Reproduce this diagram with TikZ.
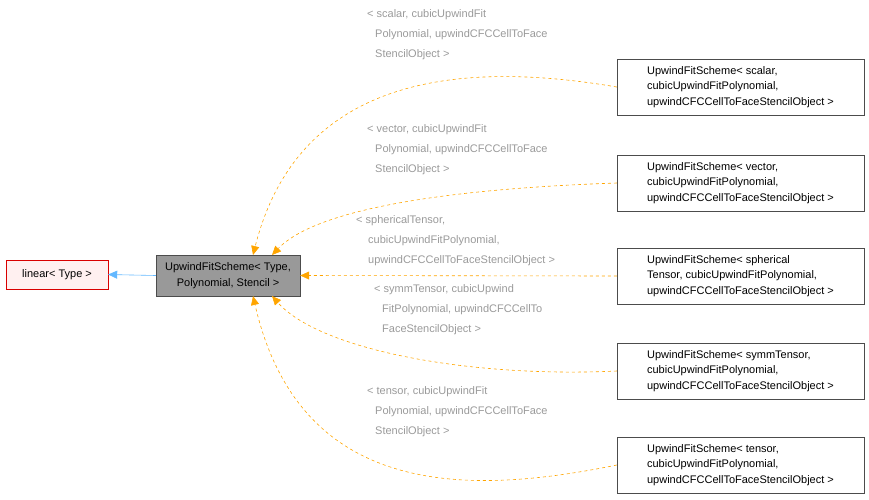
\documentclass[tikz,border=0pt]{standalone}
\usepackage{fontspec}
\setmainfont{Liberation Sans}
\usetikzlibrary{arrows.meta,positioning}
\definecolor{edgeorange}{HTML}{FFA500}
\definecolor{edgeblue}{HTML}{63B8FF}
\definecolor{labelgray}{HTML}{9A9A9A}
\definecolor{nodegray}{HTML}{999999}
\definecolor{nodered}{HTML}{FFF0F0}

\begin{document}
\begin{tikzpicture}[x=1pt,y=-1pt,font=\fontsize{11}{15.5}\selectfont]
  \tikzstyle{cls}=[rectangle,draw=black!70,fill=white,align=left,inner sep=0pt,
                   minimum width=247pt,minimum height=56pt]
  \tikzstyle{lbl}=[anchor=north west,text=labelgray,align=left,inner sep=0pt,
                   font=\fontsize{11}{20}\selectfont]
  \tikzstyle{inh}=[draw=edgeorange,dashed,semithick,-{Triangle[width=8pt,length=9pt]}]
  \useasboundingbox (0,0) rectangle (869,499);

  \node[rectangle,draw=red!85!black,fill=nodered,minimum width=102pt,minimum height=29pt,inner sep=0pt] (linear) at (57,274.5) {linear< Type >};
  \node[rectangle,draw=black!70,fill=nodegray,minimum width=144pt,minimum height=41pt,inner sep=0pt,align=center] (base) at (228,275.5) {UpwindFitScheme< Type,\\Polynomial, Stencil >};

  \node[cls] (scalar) at (740.5,87) {UpwindFitScheme< scalar,\\ cubicUpwindFitPolynomial,\\ upwindCFCCellToFaceStencilObject >};
  \node[cls] (vector) at (740.5,183) {UpwindFitScheme< vector,\\ cubicUpwindFitPolynomial,\\ upwindCFCCellToFaceStencilObject >};
  \node[cls] (spherical) at (740.5,276) {UpwindFitScheme< spherical\\Tensor, cubicUpwindFitPolynomial,\\ upwindCFCCellToFaceStencilObject >};
  \node[cls] (symm) at (740.5,371) {UpwindFitScheme< symmTensor,\\ cubicUpwindFitPolynomial,\\ upwindCFCCellToFaceStencilObject >};
  \node[cls] (tensor) at (740.5,465) {UpwindFitScheme< tensor,\\ cubicUpwindFitPolynomial,\\ upwindCFCCellToFaceStencilObject >};

  \node[lbl] (lscalar) at (367,9) {< scalar, cubicUpwindFit\\\hspace*{8pt}Polynomial, upwindCFCCellToFace\\\hspace*{8pt}StencilObject >};
  \node[lbl] (lvector) at (367,124) {< vector, cubicUpwindFit\\\hspace*{8pt}Polynomial, upwindCFCCellToFace\\\hspace*{8pt}StencilObject >};
  \node[lbl] (lspherical) at (356,215) {< sphericalTensor,\\\hspace*{12pt}cubicUpwindFitPolynomial,\\\hspace*{12pt}upwindCFCCellToFaceStencilObject >};
  \node[lbl] (lsymm) at (374,284) {< symmTensor, cubicUpwind\\\hspace*{8pt}FitPolynomial, upwindCFCCellTo\\\hspace*{8pt}FaceStencilObject >};
  \node[lbl] (ltensor) at (367,386) {< tensor, cubicUpwindFit\\\hspace*{8pt}Polynomial, upwindCFCCellToFace\\\hspace*{8pt}StencilObject >};

  \draw[draw=edgeblue,semithick,-{Triangle[width=8pt,length=9pt]}] (base.west) -- (linear.east);
  \path[inh] (scalar.west) .. controls (470,62) and (300,70) .. (253,255);
  \path[inh] (vector.west) .. controls (470,188) and (320,205) .. (272,255);
  \path[inh] (spherical.west) -- (base.east);
  \path[inh] (symm.west) .. controls (470,378) and (320,350) .. (272,296);
  \path[inh] (tensor.west) .. controls (470,495) and (300,500) .. (253,296);
\end{tikzpicture}
\end{document}
